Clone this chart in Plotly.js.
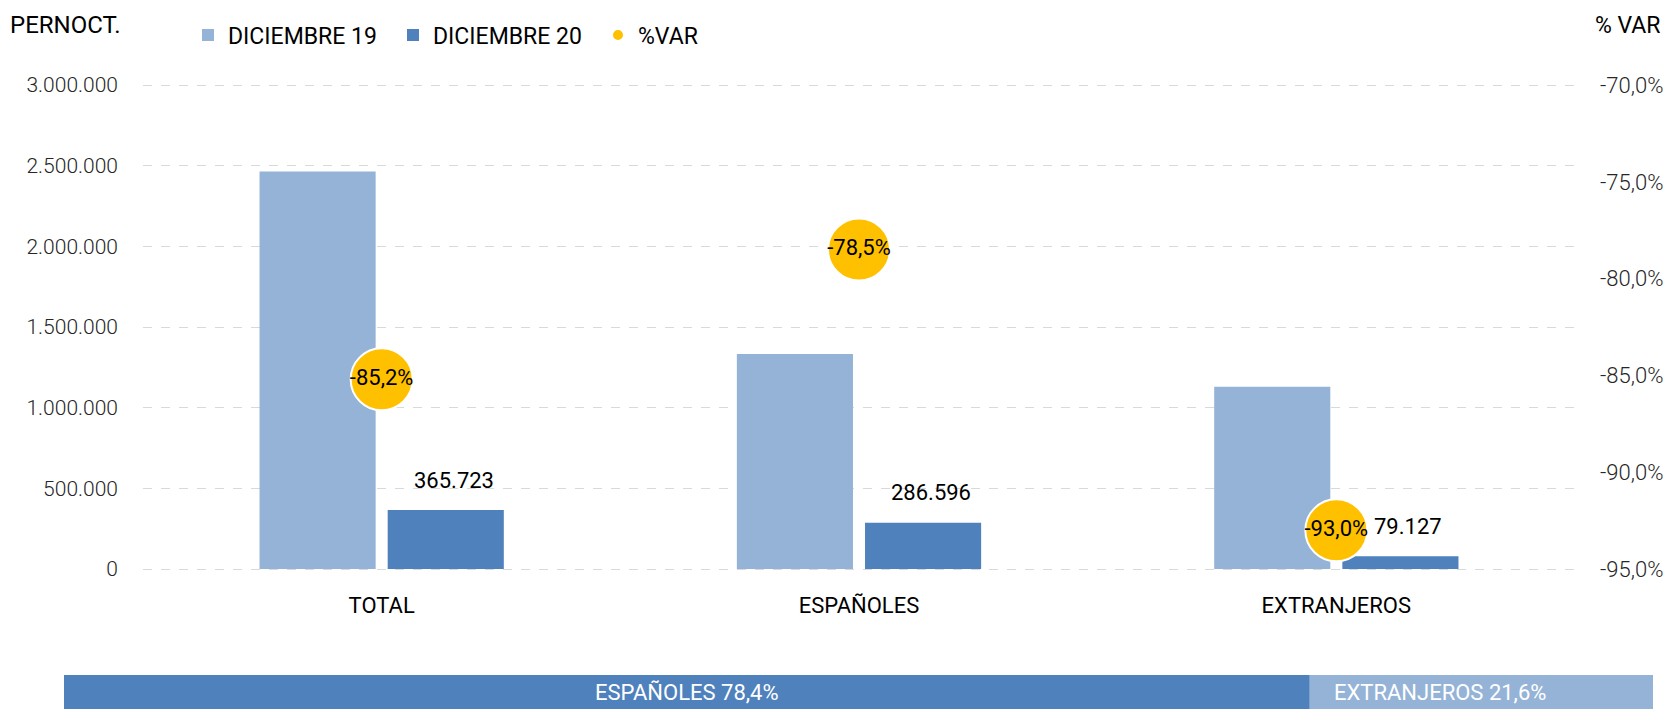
<!DOCTYPE html>
<html>
<head>
<meta charset="utf-8">
<script src="https://cdn.plot.ly/plotly-3.0.1.min.js"></script>
<style>
html,body{margin:0;padding:0;background:#fff;}
#chart{width:1672px;height:709px;}
</style>
</head>
<body>
<div id="chart"></div>
<script>
// ---- data ----
const categories = ['TOTAL', 'ESPAÑOLES', 'EXTRANJEROS'];
const dic19 = [2463400, 1333000, 1130400];
const dic20 = [365723, 286596, 79127];
const pctVar = [-85.2, -78.5, -93.0];
const seriesNames = ['DICIEMBRE 19', 'DICIEMBRE 20', '%VAR'];
const leftTickVals = [0, 500000, 1000000, 1500000, 2000000, 2500000, 3000000];
const rightTickVals = [-95, -90, -85, -80, -75, -70];
const rightTickText = ['-95,0%', '-90,0%', '-85,0%', '-80,0%', '-75,0%', '-70,0%'];
const shareLabels = ['ESPAÑOLES', 'EXTRANJEROS'];
const shareValues = [78.4, 21.6];

// ---- helpers ----
function fmtThousands(v) {
  return String(Math.round(v)).replace(/\B(?=(\d{3})+(?!\d))/g, '.');
}
function fmtPct(v) {
  return v.toFixed(1).replace('.', ',') + '%';
}

const W = 1672, H = 709;
const FONT = 'Roboto, "Open Sans", sans-serif';
const light = '#95B3D7', dark = '#4F81BD', gold = '#FFC000';

// plot area (pixels) where 0 and 3.000.000 sit; a few px of padding so
// the gridlines at both ends are drawn
const plotTop = 85, plotBottom = 569, padPx = 4;
const leftRange = [0, 3000000];
const rightRange = [-95, -70];
const lPad = (leftRange[1] - leftRange[0]) * padPx / (plotBottom - plotTop);
const rPad = (rightRange[1] - rightRange[0]) * padPx / (plotBottom - plotTop);

const traces = [
  {
    type: 'bar', name: seriesNames[0], x: categories, y: dic19,
    marker: {color: light}, hoverinfo: 'skip'
  },
  {
    type: 'bar', name: seriesNames[1], x: categories, y: dic20,
    marker: {color: dark}, hoverinfo: 'skip'
  },
  {
    type: 'scatter', mode: 'markers+text', name: seriesNames[2],
    x: categories, y: pctVar, yaxis: 'y2',
    text: pctVar.map(fmtPct), textposition: 'middle center',
    textfont: {family: FONT, size: 22, color: '#000'},
    marker: {color: gold, size: 62, line: {color: '#fff', width: 2}},
    hoverinfo: 'skip', cliponaxis: false
  },
  {
    type: 'bar', orientation: 'h', x: [shareValues[0]], base: [0], y: ['s'],
    xaxis: 'x2', yaxis: 'y3', width: 1, offsetgroup: 'strip',
    marker: {color: dark}, showlegend: false, hoverinfo: 'skip'
  },
  {
    type: 'bar', orientation: 'h', x: [shareValues[1]], base: [shareValues[0]], y: ['s'],
    xaxis: 'x2', yaxis: 'y3', width: 1, offsetgroup: 'strip',
    marker: {color: light}, showlegend: false, hoverinfo: 'skip'
  }
];

const annotations = categories.map((c, i) => ({
  x: c, y: dic20[i], xref: 'x', yref: 'y',
  text: fmtThousands(dic20[i]), showarrow: false,
  xanchor: 'center', yanchor: 'middle', xshift: 72, yshift: 30,
  font: {family: FONT, size: 22, color: '#000'}
}));
annotations.push({
  x: 8 / W, y: 1 - 25 / H, xref: 'paper', yref: 'paper',
  text: 'PERNOCT.', showarrow: false, xanchor: 'left', yanchor: 'middle',
  font: {family: FONT, size: 24, color: '#000'}
});
annotations.push({
  x: 1593 / W, y: 1 - 25.5 / H, xref: 'paper', yref: 'paper',
  text: '% VAR', showarrow: false, xanchor: 'left', yanchor: 'middle',
  font: {family: FONT, size: 23, color: '#000'}
});
// strip labels
annotations.push({
  x: shareValues[0] / 2, y: 's', xref: 'x2', yref: 'y3',
  text: shareLabels[0] + ' ' + fmtPct(shareValues[0]), showarrow: false,
  xanchor: 'center', yanchor: 'middle',
  font: {family: FONT, size: 22, color: '#fff'}
});
annotations.push({
  x: shareValues[0], y: 's', xref: 'x2', yref: 'y3',
  text: shareLabels[1] + ' ' + fmtPct(shareValues[1]), showarrow: false,
  xanchor: 'left', yanchor: 'middle', xshift: 22,
  font: {family: FONT, size: 22, color: '#fff'}
});

const layout = {
  width: W, height: H,
  margin: {l: 0, r: 0, t: 0, b: 0},
  paper_bgcolor: '#fff', plot_bgcolor: 'rgba(0,0,0,0)',
  font: {family: FONT, size: 22, color: '#000'},
  separators: ',.',
  barmode: 'group', bargap: 0.463, bargroupgap: 0.094,
  showlegend: true,
  legend: {
    orientation: 'h', x: 188 / W, y: 1 - 35 / H, xanchor: 'left', yanchor: 'middle',
    font: {family: FONT, size: 23, color: '#000'}, itemsizing: 'constant',
    bgcolor: 'rgba(0,0,0,0)', traceorder: 'normal', entrywidth: 160
  },
  xaxis: {
    domain: [143 / W, 1575 / W], anchor: 'y',
    type: 'category', showgrid: false, zeroline: false, showline: false,
    ticks: '', ticklabelstandoff: 17,
    tickfont: {family: FONT, size: 22, color: '#000'}
  },
  yaxis: {
    domain: [1 - (plotBottom + padPx) / H, 1 - (plotTop - padPx) / H], anchor: 'x',
    range: [leftRange[0] - lPad, leftRange[1] + lPad], tickvals: leftTickVals, tickformat: ',d',
    showgrid: true, gridcolor: '#D9D9D9', griddash: 'dash', gridwidth: 1,
    zeroline: false, showline: false, ticks: '', ticklabelstandoff: 24,
    tickfont: {family: FONT, size: 21, color: '#262626', weight: 300}
  },
  yaxis2: {
    overlaying: 'y', side: 'right', anchor: 'x',
    range: [rightRange[0] - rPad, rightRange[1] + rPad], tickvals: rightTickVals, ticktext: rightTickText,
    showgrid: false, zeroline: false, showline: false, ticks: '', ticklabelstandoff: 24,
    tickfont: {family: FONT, size: 22, color: '#262626', weight: 300}
  },
  xaxis2: {
    domain: [64 / W, 1653 / W], anchor: 'y3', range: [0, 100],
    visible: false, fixedrange: true
  },
  yaxis3: {
    domain: [0, 34 / H], anchor: 'x2', range: [-0.5, 0.5],
    type: 'category', visible: false, fixedrange: true
  },
  annotations: annotations
};

Plotly.newPlot('chart', traces, layout, {displayModeBar: false, staticPlot: true});
</script>
</body>
</html>
